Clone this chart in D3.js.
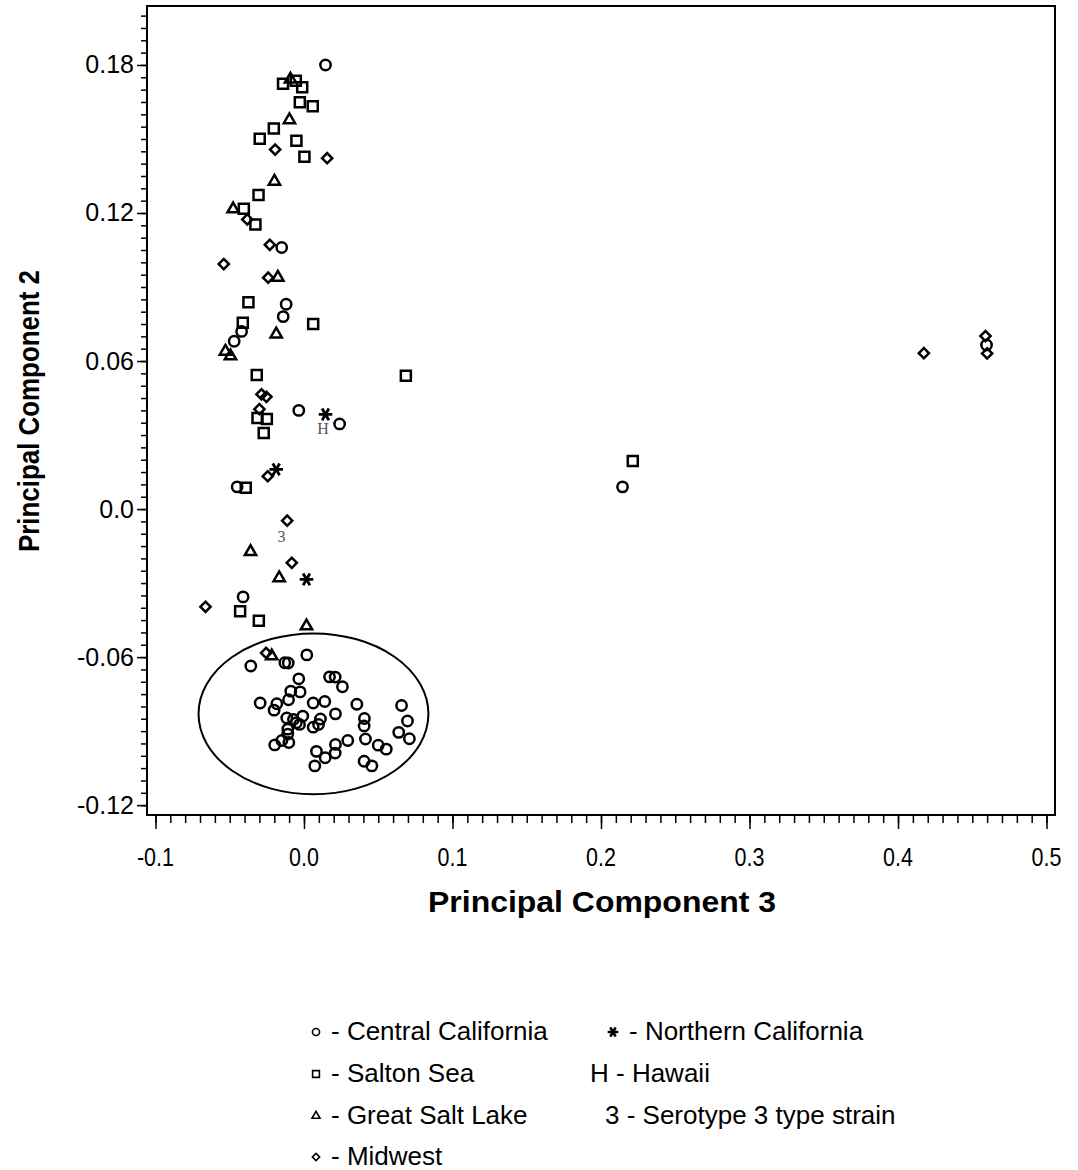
<!DOCTYPE html>
<html>
<head>
<meta charset="utf-8">
<script src="https://cdn.jsdelivr.net/npm/d3@7"></script>
<style>
  body { margin: 0; background: #fff; }
</style>
</head>
<body>
<div id="chart"></div>
<script>
// PCA scores, [PC3, PC2] for each strain, grouped by origin
var centralCalifornia = [
  [0.0145, 0.180], [-0.015, 0.106], [-0.012, 0.083], [-0.014, 0.078], [-0.042, 0.072],
  [-0.047, 0.068], [-0.0035, 0.040], [0.024, 0.0345], [-0.045, 0.009], [-0.041, -0.0356],
  [0.2145, 0.009], [0.4596, 0.0665],
  [-0.0358, -0.0636], [-0.0129, -0.0623], [-0.0106, -0.0624], [0.0019, -0.0591], [-0.0035, -0.0688],
  [0.0172, -0.0680], [0.021, -0.0681], [0.0259, -0.0720], [-0.0089, -0.0738], [-0.0026, -0.0741],
  [-0.0104, -0.0773], [-0.0295, -0.0786], [-0.0183, -0.0789], [-0.0201, -0.0815], [0.0062, -0.0786],
  [0.014, -0.078], [0.0356, -0.0791], [0.0657, -0.0796], [0.0212, -0.083], [-0.0116, -0.0847],
  [-0.0071, -0.0853], [-0.0008, -0.0839], [-0.0051, -0.0866], [-0.003, -0.0873], [-0.0109, -0.0892],
  [-0.0109, -0.0912], [0.0111, -0.0851], [0.0098, -0.0873], [0.0062, -0.0884], [0.0407, -0.0849],
  [0.0405, -0.0879], [0.0697, -0.0859], [0.0638, -0.0905], [0.071, -0.0931], [0.0295, -0.0938],
  [0.0414, -0.0932], [-0.0149, -0.0938], [-0.0102, -0.0946], [-0.0197, -0.0956], [0.0212, -0.0954],
  [0.021, -0.0989], [0.0084, -0.0982], [0.0143, -0.1008], [0.0073, -0.1041], [0.05, -0.0957],
  [0.0554, -0.0973], [0.0405, -0.1022], [0.0457, -0.1041]
];
var saltonSea = [
  [-0.0141, 0.1724], [-0.0055, 0.1736], [-0.0012, 0.171], [-0.0028, 0.1649], [0.0059, 0.1633],
  [-0.0203, 0.1542], [-0.0298, 0.1501], [-0.0051, 0.1493], [0.0003, 0.1428], [-0.0306, 0.1273],
  [-0.0405, 0.1217], [-0.0327, 0.1153], [-0.0374, 0.0838], [-0.0412, 0.0755], [0.0062, 0.075],
  [-0.0318, 0.0543], [0.0686, 0.054], [-0.0313, 0.0369], [-0.025, 0.0365], [-0.0271, 0.0308],
  [-0.0392, 0.0086], [0.2214, 0.0195], [-0.043, -0.0414], [-0.0304, -0.0453]
];
var greatSaltLake = [
  [-0.0091, 0.1742], [-0.0098, 0.1577], [-0.0199, 0.1328], [-0.0477, 0.1216], [-0.0176, 0.0939],
  [-0.0187, 0.0709], [-0.0529, 0.0639], [-0.0495, 0.062], [-0.036, -0.0173], [-0.0167, -0.0279],
  [0.0017, -0.0474], [-0.0217, -0.0596]
];
var midwest = [
  [-0.0194, 0.1457], [0.0156, 0.1422], [-0.0382, 0.1174], [-0.023, 0.1071], [-0.054, 0.0993],
  [-0.0241, 0.0938], [-0.0286, 0.0465], [-0.0253, 0.0455], [-0.03, 0.0405], [-0.0244, 0.0133],
  [-0.0113, -0.0047], [-0.0082, -0.0218], [-0.0663, -0.0396], [-0.0255, -0.0583],
  [0.4174, 0.0632], [0.4589, 0.0701], [0.46, 0.0631]
];
var northernCalifornia = [[0.0145, 0.0384], [-0.0187, 0.0161], [0.0017, -0.0285]];
var hawaii = [[0.0129, 0.0327]];
var serotype3 = [[-0.0152, -0.0112]];

// ellipse drawn round the Central California cluster: centre x, centre y, radius x, radius y
var clusterEllipse = [0.0064, -0.083, 0.0774, 0.0326];

var xTicks = [-0.1, 0.0, 0.1, 0.2, 0.3, 0.4, 0.5];
var yTicks = [-0.12, -0.06, 0.0, 0.06, 0.12, 0.18];
var xTickLabels = ["-0.1", "0.0", "0.1", "0.2", "0.3", "0.4", "0.5"];
var yTickLabels = ["-0.12", "-0.06", "0.0", "0.06", "0.12", "0.18"];

var legendLeft = ["Central California", "Salton Sea", "Great Salt Lake", "Midwest"];
var legendRight = ["Northern California", "Hawaii", "Serotype 3 type strain"];

var width = 1078, height = 1170;
var margin = { left: 147, top: 6, right: 23, bottom: 355 };
var sans = "Liberation Sans, Arial, sans-serif";
var serif = "Liberation Serif, DejaVu Serif, serif";

var svg = d3.select("#chart").append("svg")
  .attr("width", width)
  .attr("height", height)
  .style("font-family", sans);

var x = d3.scaleLinear()
  .domain([-0.1057, 0.5057])
  .range([margin.left, width - margin.right]);
var y = d3.scaleLinear()
  .domain([-0.124, 0.2039])
  .range([height - margin.bottom, margin.top]);

// frame
svg.append("rect")
  .attr("x", x.range()[0])
  .attr("y", y.range()[1])
  .attr("width", x.range()[1] - x.range()[0])
  .attr("height", y.range()[0] - y.range()[1])
  .attr("fill", "none")
  .attr("stroke", "#000")
  .attr("stroke-width", 2);

// x axis: ticks hang below the frame
var xMinor = d3.range(-100, 501, 10).map(function(d){ return d / 1000; });
var xAxisG = svg.append("g").attr("transform", "translate(0," + (y.range()[0] + 1) + ")");
xAxisG.call(d3.axisBottom(x).tickValues(xMinor).tickSize(7).tickFormat(""));
xAxisG.append("g").call(d3.axisBottom(x).tickValues(xTicks).tickSize(13).tickFormat(""));
xAxisG.selectAll(".domain").remove();
xAxisG.selectAll("line").attr("stroke", "#000").attr("stroke-width", 1.5);

// x tick labels are a little narrow in the original
svg.append("g").selectAll("text")
  .data(xTicks)
  .enter()
  .append("text")
  .attr("transform", function(d){ return "translate(" + x(d) + ",866) scale(0.86,1)"; })
  .attr("text-anchor", "middle")
  .attr("font-size", 25)
  .text(function(d, i){ return xTickLabels[i]; });

// y axis
var yMinor = d3.range(-120, 201, 5).map(function(d){ return d / 1000; });
var yAxisG = svg.append("g").attr("transform", "translate(" + (x.range()[0] - 1) + ",0)");
yAxisG.call(d3.axisLeft(y).tickValues(yMinor).tickSize(5).tickFormat(""));
yAxisG.append("g").call(d3.axisLeft(y).tickValues(yTicks).tickSize(9).tickPadding(3)
  .tickFormat(function(d, i){ return yTickLabels[i]; }));
yAxisG.selectAll(".domain").remove();
yAxisG.selectAll("line").attr("stroke", "#000").attr("stroke-width", 1.5);
yAxisG.selectAll("text")
  .attr("font-size", 25)
  .attr("fill", "#000")
  .style("font-family", sans);

// axis titles
svg.append("text")
  .attr("x", 428)
  .attr("y", 912)
  .attr("font-size", 30)
  .attr("font-weight", "bold")
  .attr("textLength", 348)
  .attr("lengthAdjust", "spacingAndGlyphs")
  .text("Principal Component 3");

svg.append("text")
  .attr("transform", "translate(39,552) rotate(-90)")
  .attr("font-size", 30)
  .attr("font-weight", "bold")
  .attr("textLength", 282)
  .attr("lengthAdjust", "spacingAndGlyphs")
  .text("Principal Component 2");

// cluster ellipse
svg.append("ellipse")
  .attr("cx", x(clusterEllipse[0]))
  .attr("cy", y(clusterEllipse[1]))
  .attr("rx", x(clusterEllipse[2]) - x(0))
  .attr("ry", y(0) - y(clusterEllipse[3]))
  .attr("fill", "none")
  .attr("stroke", "#000")
  .attr("stroke-width", 2);

var asteriskType = d3.symbolAsterisk || d3.symbolCross;

var groups = [
  { data: centralCalifornia, type: d3.symbolCircle, size: 84, rotate: 0 },
  { data: saltonSea, type: d3.symbolSquare, size: 100, rotate: 0 },
  { data: greatSaltLake, type: d3.symbolTriangle, size: 55, rotate: 0 },
  { data: midwest, type: d3.symbolSquare, size: 52, rotate: 45 }
];

groups.forEach(function(g){
  svg.append("g").selectAll("path")
    .data(g.data)
    .enter()
    .append("path")
    .attr("d", d3.symbol().type(g.type).size(g.size))
    .attr("transform", function(d){
      return "translate(" + x(d[0]) + "," + y(d[1]) + ") rotate(" + g.rotate + ")";
    })
    .attr("fill", "none")
    .attr("stroke", "#000")
    .attr("stroke-width", 2.5);
});

svg.append("g").selectAll("path")
  .data(northernCalifornia)
  .enter()
  .append("path")
  .attr("d", d3.symbol().type(asteriskType).size(130))
  .attr("transform", function(d){
    return "translate(" + x(d[0]) + "," + y(d[1]) + ") rotate(90)";
  })
  .attr("fill", "none")
  .attr("stroke", "#000")
  .attr("stroke-width", 2.8);

svg.append("g").selectAll("text")
  .data(hawaii)
  .enter()
  .append("text")
  .attr("x", function(d){ return x(d[0]); })
  .attr("y", function(d){ return y(d[1]); })
  .attr("dy", "0.36em")
  .attr("text-anchor", "middle")
  .style("font-family", serif)
  .attr("font-size", 16)
  .attr("fill", "#555")
  .text("H");

svg.append("g").selectAll("text")
  .data(serotype3)
  .enter()
  .append("text")
  .attr("x", function(d){ return x(d[0]); })
  .attr("y", function(d){ return y(d[1]); })
  .attr("dy", "0.36em")
  .attr("text-anchor", "middle")
  .style("font-family", serif)
  .attr("font-size", 16)
  .attr("fill", "#555")
  .text("3");

// legend
var legendRows = [1031, 1073, 1115, 1156];
var legendSymbols = [
  { type: d3.symbolCircle, size: 40, rotate: 0 },
  { type: d3.symbolSquare, size: 46, rotate: 0 },
  { type: d3.symbolTriangle, size: 28, rotate: 0 },
  { type: d3.symbolSquare, size: 26, rotate: 45 }
];
var legend = svg.append("g");

legendLeft.forEach(function(name, i){
  var s = legendSymbols[i];
  legend.append("path")
    .attr("d", d3.symbol().type(s.type).size(s.size))
    .attr("transform", "translate(316," + (legendRows[i] + 1) + ") rotate(" + s.rotate + ")")
    .attr("fill", "none")
    .attr("stroke", "#000")
    .attr("stroke-width", 1.6);
  legend.append("text")
    .attr("x", 331)
    .attr("y", legendRows[i])
    .attr("dy", "0.34em")
    .attr("font-size", 26)
    .text("- " + name);
});

legend.append("path")
  .attr("d", d3.symbol().type(asteriskType).size(80))
  .attr("transform", "translate(613," + (legendRows[0] + 1) + ") rotate(90)")
  .attr("fill", "none")
  .attr("stroke", "#000")
  .attr("stroke-width", 2.6);
legend.append("text")
  .attr("x", 629)
  .attr("y", legendRows[0])
  .attr("dy", "0.34em")
  .attr("font-size", 26)
  .text("- " + legendRight[0]);
legend.append("text")
  .attr("x", 590)
  .attr("y", legendRows[1])
  .attr("dy", "0.34em")
  .attr("font-size", 26)
  .text("H - " + legendRight[1]);
legend.append("text")
  .attr("x", 605)
  .attr("y", legendRows[2])
  .attr("dy", "0.34em")
  .attr("font-size", 26)
  .text("3 - " + legendRight[2]);
</script>
</body>
</html>
